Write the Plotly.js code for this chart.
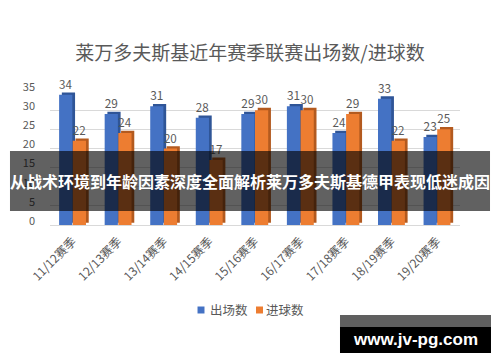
<!DOCTYPE html>
<html>
<head>
<meta charset="utf-8">
<script src="https://cdn.plot.ly/plotly-3.0.1.min.js"></script>
<style>html,body{margin:0;padding:0;background:#fff;}#chart{width:500px;height:362px;}</style>
</head>
<body>
<div id="chart"></div>
<script>
const seasons = ["11/12赛季","12/13赛季","13/14赛季","14/15赛季","15/16赛季","16/17赛季","17/18赛季","18/19赛季","19/20赛季"];
const appearances = [34, 29, 31, 28, 29, 31, 24, 33, 23];
const goals = [22, 24, 20, 17, 30, 30, 29, 22, 25];
const seriesNames = ["出场数", "进球数"];
const yTicks = [0, 5, 10, 15, 20, 25, 30, 35];

const FONT = '"Noto Sans CJK SC", "Noto Sans", sans-serif';
const GRAY = '#595959';
const BLUE = '#4472C4', BLUE_D = '#2F5597';
const ORANGE = '#ED7D31', ORANGE_D = '#B35A1F';

function side(vals, color, off) {
  return {type:'bar', x:seasons, y:vals, base:0.6, offset:off, width:0.29,
    marker:{color:color}, showlegend:false, hoverinfo:'skip'};
}
function main(vals, name, color, off) {
  return {type:'bar', name:name, x:seasons, y:vals, offset:off, width:0.29,
    marker:{color:color}, text:vals.map(String), textposition:'outside',
    textfont:{family:FONT, size:12, color:GRAY}, cliponaxis:false, showlegend:false};
}

const data = [
  side(appearances, BLUE_D, -0.24),
  main(appearances, seriesNames[0], BLUE, -0.3),
  side(goals, ORANGE_D, 0.06),
  main(goals, seriesNames[1], ORANGE, 0.0)
];

// legend key (drawn in paper coordinates below the plot)
const legendKeys = [
  {name: seriesNames[0], color: BLUE, sx0: 0.3598, sx1: 0.3768, tx: 0.3878},
  {name: seriesNames[1], color: ORANGE, sx0: 0.5024, sx1: 0.5195, tx: 0.5256}
];

const shapes = [
  {type:'rect', xref:'paper', yref:'paper', x0:-0.0976, x1:1.0732, y0:0.1045, y1:0.5522,
    fillcolor:'rgba(0,0,0,0.62)', line:{width:0}, layer:'above'},
  {type:'rect', xref:'paper', yref:'paper', x0:0.7073, x1:1.0756, y0:-0.761, y1:-0.672,
    fillcolor:'#5F5F5F', line:{width:0}, layer:'above'},
  {type:'rect', xref:'paper', yref:'paper', x0:0.7073, x1:1.0756, y0:-0.955, y1:-0.761,
    fillcolor:'#000000', line:{width:0}, layer:'above'}
];
const annotations = [
  {text:'<b>从战术环境到年龄因素深度全面解析莱万多夫斯基德甲表现低迷成因</b>', xref:'paper', yref:'paper',
    x:0.4878, y:0.328, xanchor:'center', yanchor:'middle', showarrow:false,
    font:{family:FONT, size:16, color:'#FFFFFF'}},
  {text:'<b>www.jv-pg.com</b>', xref:'paper', yref:'paper', x:0.8915, y:-0.858,
    xanchor:'center', yanchor:'middle', showarrow:false,
    font:{family:'"Liberation Sans", Arial, sans-serif', size:17, color:'#FFFFFF'}}
];
legendKeys.forEach(k => {
  shapes.push({type:'rect', xref:'paper', yref:'paper', x0:k.sx0, x1:k.sx1, y0:-0.6604, y1:-0.6082,
    fillcolor:k.color, line:{width:0}});
  annotations.push({text:k.name, xref:'paper', yref:'paper', x:k.tx, y:-0.6306,
    xanchor:'left', yanchor:'middle', showarrow:false, borderpad:0,
    font:{family:FONT, size:12.5, color:GRAY}});
});

const layout = {
  width:500, height:362,
  margin:{l:50, r:40, t:91, b:137},
  paper_bgcolor:'#fff', plot_bgcolor:'#fff',
  font:{family:FONT, color:GRAY},
  barmode:'overlay',
  showlegend:false,
  title:{text:'莱万多夫斯基近年赛季联赛出场数/进球数', font:{family:FONT, size:19, color:GRAY},
    x:0.5, xref:'container', xanchor:'center', y:1-53/362, yref:'container', yanchor:'middle'},
  xaxis:{type:'category', tickangle:-45, tickfont:{family:FONT, size:12, color:GRAY},
    showgrid:false, zeroline:false, showline:false, ticks:'', ticklabelstandoff:6,
    range:[-0.5, 8.5]},
  yaxis:{range:[0,35], tickvals:yTicks, tickfont:{family:FONT, size:11, color:GRAY},
    showgrid:true, gridcolor:'#D9D9D9', gridwidth:1, zeroline:true, zerolinecolor:'#D9D9D9',
    showline:false, ticks:'', ticklabelstandoff:14, ticklabelshift:-4},
  shapes: shapes,
  annotations: annotations
};

Plotly.newPlot('chart', data, layout, {displayModeBar:false, staticPlot:true});
</script>
</body>
</html>
